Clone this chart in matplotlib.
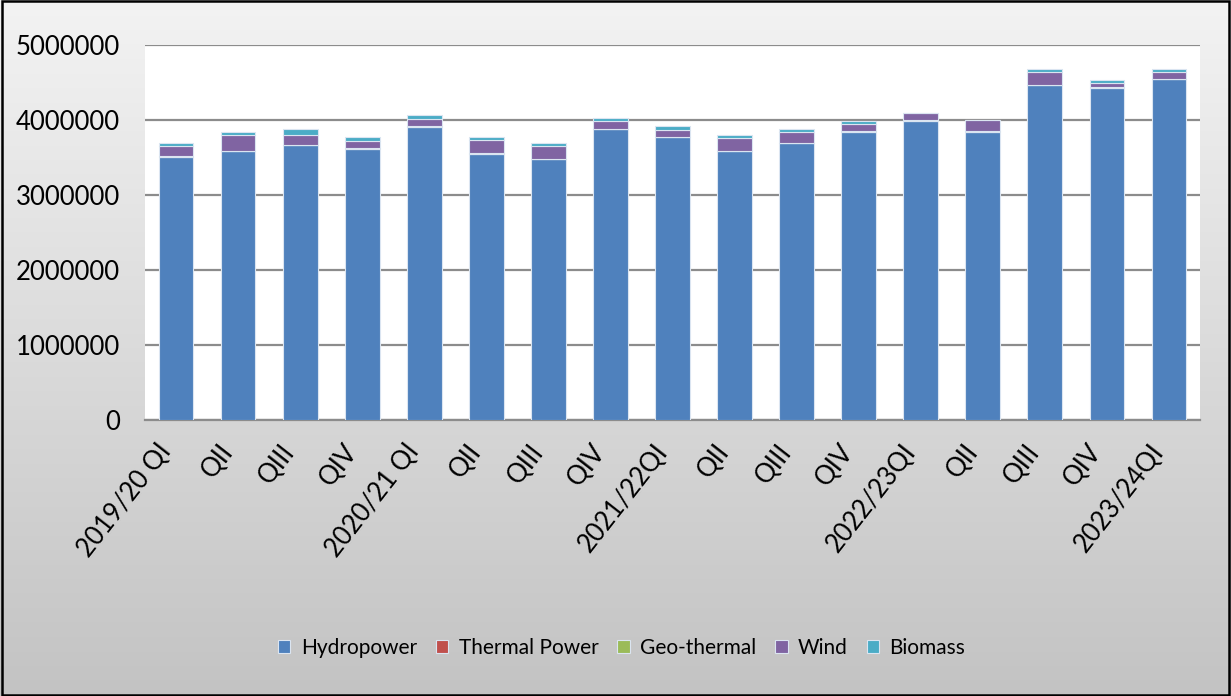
import numpy as np
import matplotlib
matplotlib.use("Agg")
from matplotlib import pyplot as plt
from matplotlib.patches import Rectangle

plt.rcParams['font.family'] = ['Lato', 'DejaVu Sans']

# quarters
quarters = ['2019/20 QI', 'QII', 'QIII', 'QIV',
            '2020/21 QI', 'QII', 'QIII', 'QIV',
            '2021/22QI', 'QII', 'QIII', 'QIV',
            '2022/23QI', 'QII', 'QIII', 'QIV',
            '2023/24QI']

hydro = [3511000, 3582000, 3662000, 3618000, 3911000, 3551000, 3476000, 3876000,
         3769000, 3582000, 3693000, 3844000, 3991000, 3844000, 4462000, 4431000, 4542000]
thermal = [2000, 2000, 2000, 2000, 2000, 2000, 2000, 2000,
           2000, 2000, 2000, 2000, 2000, 2000, 2000, 2000, 2000]
geothermal = [2000, 2000, 2000, 2000, 2000, 2000, 2000, 2000,
              2000, 2000, 2000, 4000, 2000, 2000, 2000, 2000, 2000]
wind = [142000, 218000, 138000, 102000, 103000, 174000, 177000, 111000,
        98000, 178000, 147000, 101000, 103000, 152000, 178000, 63000, 98000]
biomass = [36000, 36000, 72000, 45000, 44000, 40000, 36000, 36000,
           45000, 40000, 32000, 36000, 0, 0, 40000, 40000, 40000]

colors = ['#4F81BD', '#C0504D', '#9BBB59', '#8064A2', '#4BACC6']
names = ['Hydropower', 'Thermal Power', 'Geo-thermal', 'Wind', 'Biomass']
series = [hydro, thermal, geothermal, wind, biomass]

fig = plt.figure(figsize=(12.31, 6.96), dpi=100)

# grey gradient background
bg = fig.add_axes([0, 0, 1, 1], zorder=-10)
grad = np.linspace(243, 195, 256).reshape(-1, 1) / 255.0
bg.imshow(np.dstack([grad, grad, grad]), aspect='auto', extent=[0, 1, 0, 1])
bg.set_axis_off()

ax = fig.add_axes([145 / 1231, 1 - 420 / 696, 1055 / 1231, 375 / 696])
ax.set_facecolor('white')

x = np.arange(len(quarters))
bottom = np.zeros(len(quarters))
for vals, c, n in zip(series, colors, names):
    ax.bar(x, vals, width=0.56, bottom=bottom, color=c, label=n,
           edgecolor='#dbe5f1', linewidth=0.8, zorder=3)
    bottom += np.array(vals)

ax.set_xlim(-0.5, len(quarters) - 0.5)
ax.set_ylim(0, 5000000)
ax.set_yticks([0, 1000000, 2000000, 3000000, 4000000, 5000000])
ax.set_yticklabels(['0', '1000000', '2000000', '3000000', '4000000', '5000000'])
ax.yaxis.grid(True, color='#8c8c8c', linewidth=1.6)
ax.set_axisbelow(True)
ax.tick_params(axis='y', length=0, pad=18, labelsize=18.5)
ax.tick_params(axis='x', length=0, pad=14, labelsize=18.5)
ax.set_xticks(x)
ax.set_xticklabels(quarters, rotation=52, ha='right', va='top', rotation_mode='default')
for s in ['top', 'right', 'left']:
    ax.spines[s].set_visible(False)
ax.spines['bottom'].set_color('#8c8c8c')
ax.spines['bottom'].set_linewidth(1.6)

fig.legend(loc='center', bbox_to_anchor=(0.505, 0.069), ncol=5, frameon=False,
           fontsize=15, handlelength=0.6, handleheight=0.6, handletextpad=0.5,
           columnspacing=0.9)

# border around the chart
fig.patches.append(Rectangle((0.002, 0.002), 0.996, 0.996, transform=fig.transFigure,
                             fill=False, edgecolor='black', linewidth=1.8))

fig.savefig('out.png', dpi=100)
